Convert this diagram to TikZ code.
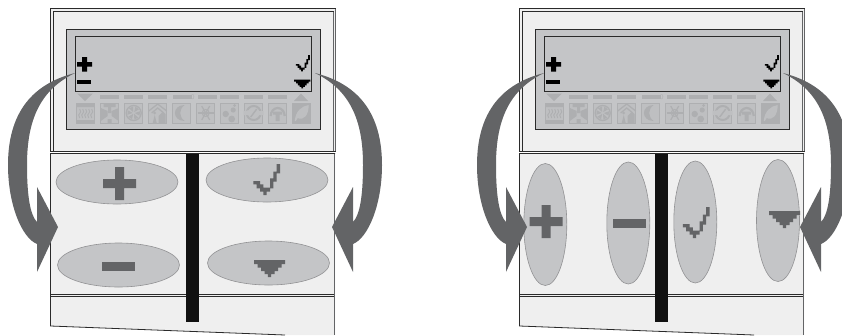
\documentclass[tikz,border=0pt]{standalone}
\usepackage{xcolor}
\usepackage{tikz}
\usetikzlibrary{shapes,arrows,arrows.meta,positioning,fit,shapes.geometric}
\definecolor{panelfill}{HTML}{EFEFEF}
\definecolor{lcdfill}{HTML}{C4C5C7}
\definecolor{keyfill}{HTML}{C4C5C7}
\definecolor{markgray}{HTML}{636466}
\definecolor{icongray}{HTML}{AEAFB1}
\definecolor{iconback}{HTML}{BEBFC1}
\definecolor{linedark}{HTML}{2A2A2A}
\definecolor{barblack}{HTML}{111111}

% bent pointer from the display down to a pair of keys
\newcommand{\bendarrow}[1]{%
  \fill[markgray,#1] (75,73) .. controls (40,82) and (8,105) .. (8,165)
    .. controls (8,205) and (22,238) .. (37,244) -- (37,272) -- (58,227) -- (37,187) -- (37,222)
    .. controls (30,215) and (27,195) .. (27,165) .. controls (27,120) and (40,90) .. (75,73) -- cycle;}

% key and display marks
\newcommand{\plusmark}[4]{\fill[#1] (#2-16.5,#3-4.5) rectangle (#2+16.5,#3+4.5) (#2-4.5,#3-#4) rectangle (#2+4.5,#3+#4);}
\newcommand{\minusmark}[3]{\fill[#1] (#2-16.5,#3-4.5) rectangle (#2+16.5,#3+4.5);}
\newcommand{\tickmark}[4]{\fill[#1,shift={(#2,#3)},scale=#4] (-12.7,1) -- (-6,1) -- (-6,4.3) -- (-2.7,4.3) -- (-2.7,7.7) -- (0.7,7.7)
    -- (4,7.7) -- (4,-1.7) -- (7.3,-1.7) -- (7.3,-8.3) -- (10.7,-8.3) -- (10.7,-16) -- (14,-16) -- (14,-6.7) -- (10.7,-6.7) -- (10.7,1.7)
    -- (7.3,1.7) -- (7.3,8.3) -- (4,8.3) -- (4,11.7) -- (0.7,11.7) -- (0.7,15) -- (-2.7,15) -- (-2.7,11.7) -- (-6,11.7) -- (-6,8.3)
    -- (-9.3,8.3) -- (-9.3,4.3) -- (-12.7,4.3) -- cycle;}
\newcommand{\downmark}[4]{\fill[#1,shift={(#2,#3)},scale=#4] (-15.5,-8.5) -- (15.5,-8.5) -- (15.5,-4.5) -- (12,-4.5) -- (12,-1) -- (8.5,-1) -- (8.5,2.5)
    -- (5,2.5) -- (5,5.5) -- (1.7,5.5) -- (1.7,8.5) -- (-1.7,8.5) -- (-1.7,5.5) -- (-5,5.5) -- (-5,2.5) -- (-8.5,2.5) -- (-8.5,-1) -- (-12,-1) -- (-12,-4.5) -- (-15.5,-4.5) -- cycle;}

\tikzset{
  iconbox/.pic={\fill[iconback,draw=icongray,line width=0.7pt] (-9,-10) rectangle (9,10);},
  iconheat/.pic={
    \fill[icongray] (-9,-10) rectangle (9,-6) (-9,7) rectangle (9,10);
    \foreach \wx in {-6,-3,0,3,6}{\draw[icongray,line width=0.9pt] (\wx,-4) -- (\wx+1,-1) -- (\wx-1,2) -- (\wx,5);}},
  iconvalve/.pic={
    \fill[icongray] (-9,-5) -- (-2,-2) -- (-2,3) -- (-9,8) -- cycle (9,-5) -- (2,-2) -- (2,3) -- (9,8) -- cycle (-6,-9) rectangle (6,-6) (-1.5,-7) rectangle (1.5,0) (-2,6) rectangle (2,10);},
  iconfan/.pic={
    \draw[icongray,line width=1.3pt] (0,0) circle (7.5);
    \foreach \wa in {0,60,...,300}{\fill[icongray] (\wa:1) -- (\wa-15:6.5) -- (\wa+25:6.5) -- cycle;}},
  iconhouse/.pic={
    \draw[icongray,line width=1.3pt] (-9,-2) -- (0,-9) -- (9,-2) (-6,0) -- (0,-5) -- (6,0);
    \fill[icongray] (1,10) -- (1,3) -- (5,-1) -- (8,1) -- (8,10) -- cycle (-5,10) -- (-3,2) -- (-1,10) -- cycle;
    \fill[icongray] (-3,0) circle (1.5);},
  iconmoon/.pic={
    \fill[icongray] (3,-8) .. controls (-10,-8) and (-10,8) .. (3,8) .. controls (-3,4) and (-3,-4) .. (3,-8) -- cycle;},
  iconsnow/.pic={
    \foreach \wa in {0,60,120}{\draw[icongray,line width=1.2pt] (\wa:-8) -- (\wa:8);}
    \draw[icongray,line width=1pt] (0,0) circle (3.5);},
  icondrops/.pic={
    \fill[icongray] (-4,1) circle (3.2) (2,6) circle (3.4) (3.5,-3) circle (2.6) (5,-7.5) circle (1.5);},
  iconclock/.pic={
    \draw[icongray,line width=2pt] (0,0) circle (7);
    \fill[iconback] (-10,-2) -- (-3,-3) -- (-3,2) -- (-10,2) -- cycle (10,-2) -- (3,-2) -- (3,2) -- (10,2) -- cycle;
    \draw[icongray,line width=1.4pt] (0,0) -- (3,-4) (0,0) -- (-3,4);},
  iconarch/.pic={
    \draw[icongray,line width=2.2pt] (-7,3) arc (180:360:7 and 8);
    \fill[icongray] (-4.5,-1.5) rectangle (4.5,1.5) (-2,0) rectangle (2,8);},
  iconleaf/.pic={
    \fill[icongray] (-9,-10) rectangle (9,10);
    \fill[iconback] (-7,8) .. controls (-6,-2) and (0,-7) .. (7,-8) .. controls (7,2) and (2,8) .. (-4,5) -- (-6,8) -- cycle;},
}

\begin{document}
\begin{tikzpicture}[
    x=1pt, y=-1pt,
    panel/.style={draw=linedark, fill=panelfill, line width=0.8pt},
    lcd/.style={draw=linedark, fill=lcdfill, line width=0.8pt},
    widekey/.style={draw=markgray!70, fill=keyfill, ellipse, line width=0.6pt, minimum width=122pt, minimum height=44pt, inner sep=0pt},
    tallkey/.style={draw=markgray!70, fill=keyfill, ellipse, line width=0.6pt, minimum width=43pt, minimum height=122pt, inner sep=0pt}
  ]
    \useasboundingbox (0,0) rectangle (842,335);

    % the two units share everything but the keys
    \foreach \ux in {0,469}{
      \begin{scope}[xshift=\ux pt]
        % lower part with slanted edge
        \fill[panelfill] (50.5,153.5) -- (335,153.5) -- (335,335) -- (285,335) -- (50.5,326) -- cycle;
        \draw[linedark,line width=0.8pt] (335,153.5) -- (50.5,153.5) -- (50.5,326) -- (285,335);
        \draw[markgray,line width=1.2pt] (334.5,153.5) -- (334.5,335);
        \draw[linedark,line width=0.7pt] (50.5,294) -- (334,294) (50.5,296.5) -- (334,296.5);
        % upper part
        \draw[panel] (50.7,8.8) rectangle (335.3,151);
        \draw[linedark,line width=0.7pt] (53,11.7) -- (333.5,11.7) (53,11.7) -- (53,151);
        \draw[markgray,line width=1pt] (333.5,11.7) -- (333.5,151) (335.5,8.8) -- (335.5,151);
        % display
        \draw[lcd] (66,29.5) rectangle (320.5,129.5);
        \draw[linedark,line width=0.8pt] (75.2,36.5) rectangle (311.3,91.2);
        % level bars and small triangles
        \fill[icongray] (77,93.5) -- (93,93.5) -- (85,101) -- cycle (294,101) -- (308,101) -- (301,93.5) -- cycle;
        \foreach \bx in {100,124,148,172.5,198,220,244,268}{
          \fill[icongray] (\bx,95) rectangle (\bx+19,99);}
        \node[inner sep=0pt, text=icongray, font=\sffamily\scriptsize] (zero) at (192.7,97) {0};
        % icon row
        \foreach \ix/\ic in {0/iconheat,1/iconvalve,2/iconfan,3/iconhouse,4/iconmoon,5/iconsnow,6/icondrops,7/iconclock,8/iconarch,9/iconleaf}{
          \pic at (85.7+24*\ix,113) {iconbox};
          \pic at (85.7+24*\ix,113) {\ic};}
        % display marks
        \fill[black] (77,62) rectangle (92,66.5) (82,57) rectangle (87,71.5);
        \fill[black] (77,80) rectangle (91,84);
        \tickmark{black}{302.5}{63.5}{0.52}
        \downmark{black}{302.3}{84}{0.52}
        % divider
        \fill[barblack] (186,153.5) rectangle (199,322);
      \end{scope}
    }

    % wide keys
    \node[widekey] (plusa) at (117,182) {};
    \node[widekey] (minusa) at (118.5,265) {};
    \node[widekey] (checka) at (267,180) {};
    \node[widekey] (downa) at (268.5,263) {};
    \plusmark{markgray}{119.5}{183.5}{16.5}
    \minusmark{markgray}{118.5}{266.5}
    \tickmark{markgray}{266}{180}{1}
    \downmark{markgray}{269.5}{268.5}{1}

    % tall keys
    \node[tallkey] (plusb) at (545.3,224.5) {};
    \node[tallkey] (minusb) at (628.3,223) {};
    \node[tallkey] (checkb) at (695.3,222) {};
    \node[tallkey] (downb) at (778,220.5) {};
    \plusmark{markgray}{546}{221.5}{16.5}
    \minusmark{markgray}{629.5}{223.5}
    \tickmark{markgray}{695.5}{223}{1}
    \downmark{markgray}{784.5}{219.5}{1}

    % pointers
    \bendarrow{}
    \bendarrow{xshift=390pt,xscale=-1}
    \bendarrow{xshift=469pt}
    \bendarrow{xshift=858pt,xscale=-1}
  \end{tikzpicture}
\end{document}
